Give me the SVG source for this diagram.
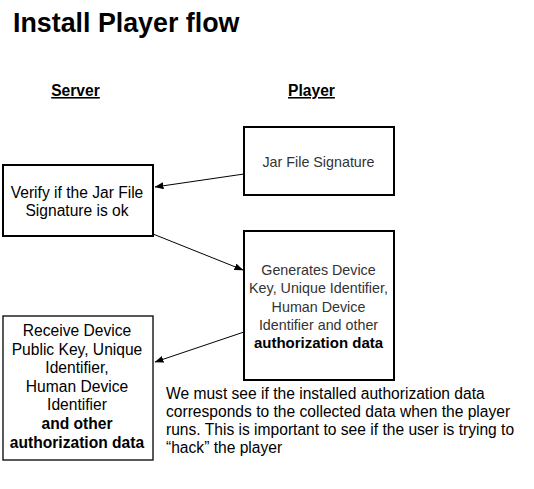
<svg xmlns="http://www.w3.org/2000/svg" width="534" height="489" viewBox="0 0 534 489">
  <style>
    text { font-family: "Liberation Sans", Arial, Helvetica, sans-serif; }
    .title { font-size: 26.8px; font-weight: bold; fill: #000; }
    .hdr { font-size: 15.6px; font-weight: bold; fill: #000; text-decoration: underline; text-anchor: middle; }
    .box { fill: #fff; stroke: #000; stroke-width: 2; }
    .thin { stroke-width: 1.3; }
    .t { font-size: 15.6px; fill: #000; text-anchor: middle; }
    .lt { font-size: 14.3px; fill: #333; text-anchor: middle; }
    .b { font-weight: bold; fill: #000; }
    .lb { font-size: 15px; }
    .note { font-size: 15.6px; fill: #000; }
    .conn { stroke: #000; stroke-width: 1; fill: none; marker-end: url(#arr); }
  </style>
  <defs>
    <marker id="arr" markerUnits="userSpaceOnUse" markerWidth="9" markerHeight="7" refX="8.5" refY="3.5" orient="auto">
      <path d="M0,0 L9,3.5 L0,7 z" fill="#000"/>
    </marker>
  </defs>
  <rect width="534" height="489" fill="#fff"/>
  <text class="title" x="13" y="32">Install Player flow</text>
  <text class="hdr" x="75.5" y="96">Server</text>
  <text class="hdr" x="311.5" y="96">Player</text>

  <g id="jar-signature">
    <rect class="box" x="244" y="127" width="150" height="68"/>
    <text class="lt" x="318.5" y="167">Jar File Signature</text>
  </g>
  <g id="verify-signature">
    <rect class="box" x="3" y="165" width="150" height="71"/>
    <text class="t" x="77" y="198">Verify if the Jar File</text>
    <text class="t" x="77" y="216">Signature is ok</text>
  </g>
  <g id="generate-keys">
    <rect class="box" x="244" y="231" width="150" height="149"/>
    <text class="lt" x="318.5" y="275">Generates Device</text>
    <text class="lt" x="318.5" y="293">Key, Unique Identifier,</text>
    <text class="lt" x="318.5" y="311.5">Human Device</text>
    <text class="lt" x="318.5" y="330">Identifier and other</text>
    <text class="lt b lb" x="318.5" y="348">authorization data</text>
  </g>
  <g id="receive-keys">
    <rect class="box thin" x="3" y="316" width="150" height="144"/>
    <text class="t" x="77" y="336">Receive Device</text>
    <text class="t" x="77" y="354.6">Public Key, Unique</text>
    <text class="t" x="77" y="373.2">Identifier,</text>
    <text class="t" x="77" y="391.8">Human Device</text>
    <text class="t" x="77" y="410.4">Identifier</text>
    <text class="t b" x="77" y="429">and other</text>
    <text class="t b" x="77" y="447.6">authorization data</text>
  </g>
  <g id="note">
    <text class="note" x="166" y="399">We must see if the installed authorization data</text>
    <text class="note" x="166" y="417">corresponds to the collected data when the player</text>
    <text class="note" x="166" y="435">runs. This is important to see if the user is trying to</text>
    <text class="note" x="166" y="453">“hack” the player</text>
  </g>

  <g id="connectors">
    <line class="conn" x1="244" y1="174" x2="155" y2="187"/>
    <line class="conn" x1="153" y1="234" x2="243" y2="270"/>
    <line class="conn" x1="244" y1="332" x2="155" y2="362"/>
  </g>
</svg>
